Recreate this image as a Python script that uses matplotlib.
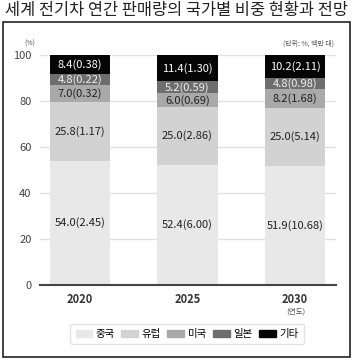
import matplotlib.pyplot as plt
from matplotlib.patches import Rectangle
import numpy as np

plt.rcParams['font.family'] = ['Noto Sans CJK KR', 'DejaVu Sans']

years = ["2020", "2025", "2030"]
countries = ["중국", "유럽", "미국", "일본", "기타"]
shares = {
    "중국": [54.0, 52.4, 51.9],
    "유럽": [25.8, 25.0, 25.0],
    "미국": [7.0, 6.0, 8.2],
    "일본": [4.8, 5.2, 4.8],
    "기타": [8.4, 11.4, 10.2],
}
volumes = {
    "중국": [2.45, 6.00, 10.68],
    "유럽": [1.17, 2.86, 5.14],
    "미국": [0.32, 0.69, 1.68],
    "일본": [0.22, 0.59, 0.98],
    "기타": [0.38, 1.30, 2.11],
}
colors = ["#e8e8e8", "#d2d2d2", "#a9a9a9", "#6e6e6e", "#050505"]
text_colors = ["#222222", "#222222", "#222222", "#f0f0f0", "#ffffff"]

fig = plt.figure(figsize=(3.53, 3.61), dpi=100)
ax = fig.add_axes([0.113, 0.2105, 0.839, 0.637])

x = np.arange(len(years))
bottom = np.zeros(len(years))
for c, col, tc in zip(countries, colors, text_colors):
    vals = np.array(shares[c])
    ax.bar(x, vals, 0.56, bottom=bottom, color=col, zorder=2)
    for i in range(len(years)):
        ax.text(x[i], bottom[i] + vals[i] / 2, f"{vals[i]:.1f}({volumes[c][i]:.2f})",
                ha="center", va="center", fontsize=8, color=tc, zorder=3)
    bottom += vals

ax.set_xlim(-0.37, 2.38)
ax.set_ylim(0, 100)
ax.set_yticks([0, 20, 40, 60, 80, 100])
ax.yaxis.grid(True, color="#e0e0e0", linewidth=1, zorder=0)
ax.set_xticks(x)
ax.set_xticklabels(years, fontsize=8, fontweight="bold", color="#333333")
ax.tick_params(axis="y", length=0, labelsize=8, labelcolor="#444444", pad=6)
ax.tick_params(axis="x", length=0, pad=6)
for s in ["top", "right", "left"]:
    ax.spines[s].set_visible(False)
ax.spines["bottom"].set_color("#444444")
ax.spines["bottom"].set_linewidth(1.5)

fig.text(0.5, 0.972, "세계 전기차 연간 판매량의 국가별 비중 현황과 전망",
         ha="center", va="center", fontsize=11.8, color="#222222")
fig.text(0.07, 0.878, "(%)", fontsize=5, color="#555555", va="center")
fig.text(0.945, 0.878, "(단위: %, 백만 대)", fontsize=5, color="#555555", va="center", ha="right")
fig.text(295.5 / 353, 1 - 312 / 361, "(연도)", fontsize=5.5, color="#555555", ha="center", va="center")

handles = [Rectangle((0, 0), 1, 1, color=col) for col in colors]
leg = fig.legend(handles, countries, loc="center", bbox_to_anchor=(0.53, 1 - 334 / 361),
                 ncol=5, fontsize=7.5, frameon=True, handlelength=1.6, handleheight=0.7,
                 columnspacing=0.6, handletextpad=0.35, borderpad=0.5, fancybox=True)
leg.get_frame().set_edgecolor("#dddddd")
leg.get_frame().set_linewidth(1)

fig.patches.append(Rectangle((3 / 353, 4 / 361), 347 / 353, 335 / 361, transform=fig.transFigure,
                             fill=False, edgecolor="#222222", linewidth=1.2))

fig.savefig("out.png", dpi=100)
